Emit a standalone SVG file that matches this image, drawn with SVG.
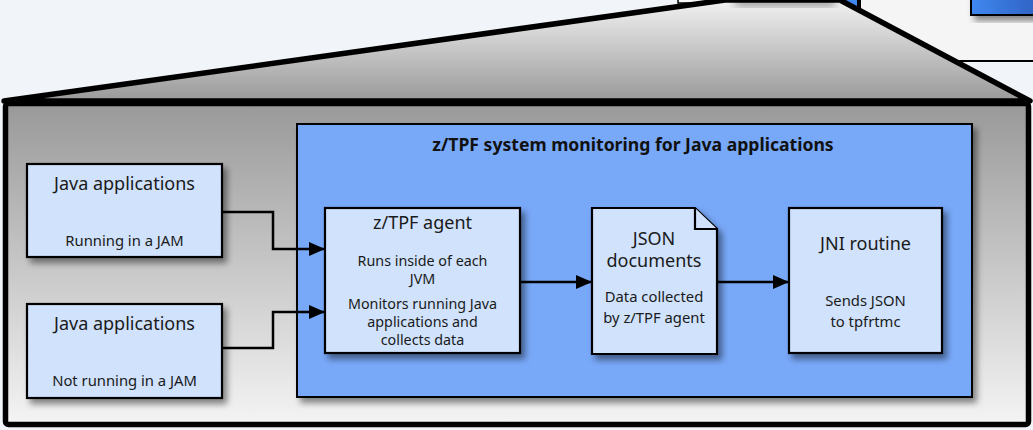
<svg xmlns="http://www.w3.org/2000/svg" width="1033" height="430" viewBox="0 0 1033 430">
<defs>
<linearGradient id="gFrame" x1="0" y1="0" x2="0" y2="1"><stop offset="0" stop-color="#999999"/><stop offset="1" stop-color="#f4f4f4"/></linearGradient>
<linearGradient id="gTrap" x1="0" y1="0" x2="0" y2="1"><stop offset="0" stop-color="#f2f2f2"/><stop offset="1" stop-color="#999999"/></linearGradient>
<linearGradient id="gBlueTop" x1="0" y1="0" x2="1" y2="0"><stop offset="0" stop-color="#3f88f0"/><stop offset="1" stop-color="#2f60c0"/></linearGradient>
<filter id="sh" x="-10%" y="-10%" width="130%" height="140%"><feDropShadow dx="4" dy="5" stdDeviation="3" flood-color="#000" flood-opacity="0.45"/></filter>
<filter id="blur"><feGaussianBlur stdDeviation="4"/></filter>
<marker id="arr" markerWidth="16" markerHeight="14" refX="16" refY="7" orient="auto" markerUnits="userSpaceOnUse"><path d="M0,0 L16,7 L0,14 Z" fill="#000"/></marker>
<style>
.node{fill:#d0e2fc;stroke:#000;stroke-width:2.2}
.t{font-family:"Noto Sans","Liberation Sans",sans-serif;fill:#1a1a1a;text-anchor:middle}
.big{font-size:18px}
.sm{font-size:14.8px}
.xs{font-size:14.3px}
.title{font-family:"Noto Sans","Liberation Sans",sans-serif;font-weight:bold;font-size:17.6px;fill:#111;text-anchor:middle}
.conn{fill:none;stroke:#000;stroke-width:2.5}
</style>
</defs>
<rect x="0" y="0" width="1033" height="430" fill="#f1f4f8"/>
<g id="background-context">
<rect x="860" y="-10" width="190" height="71" fill="#f5f5f5" stroke="#000" stroke-width="2"/>
<rect x="678" y="-20" width="180" height="23" fill="#f7f7f7" stroke="#000" stroke-width="1.5"/>
<rect x="730" y="-20" width="128" height="28" fill="#3f88f0" stroke="#000" stroke-width="2"/>
<rect x="971" y="-10" width="70" height="25" fill="url(#gBlueTop)" stroke="#000" stroke-width="2" filter="url(#sh)"/>
<polygon points="4,101 725,0 840,0 1030,101" fill="url(#gTrap)" stroke="#000" stroke-width="5.5" stroke-linejoin="round"/>
<rect x="735" y="-6" width="100" height="12" fill="#000" opacity="0.35" filter="url(#blur)"/>
</g>
<rect id="frame" x="5.5" y="103.5" width="1023" height="321" rx="3" fill="url(#gFrame)" stroke="#000" stroke-width="5.5"/>
<g id="container">
<rect x="297" y="124" width="675" height="273" fill="#78a8f8" stroke="#000" stroke-width="2" filter="url(#sh)"/>
<text class="title" x="633" y="151">z/TPF system monitoring for Java applications</text>
</g>
<g id="java-jam">
<rect class="node" x="27" y="164" width="195" height="93" filter="url(#sh)"/>
<text class="t big" x="124.5" y="190">Java applications</text>
<text class="t sm" x="124.5" y="246">Running in a JAM</text>
</g>
<g id="java-nojam">
<rect class="node" x="27" y="304" width="195" height="94" filter="url(#sh)"/>
<text class="t big" x="124.5" y="330">Java applications</text>
<text class="t sm" x="124.5" y="386">Not running in a JAM</text>
</g>
<g id="agent">
<rect class="node" x="325" y="208" width="195" height="145" filter="url(#sh)"/>
<text class="t big" x="422.5" y="229">z/TPF agent</text>
<text class="t xs" x="422.5" y="266">Runs inside of each</text>
<text class="t xs" x="422.5" y="284">JVM</text>
<text class="t xs" x="422.5" y="309">Monitors running Java</text>
<text class="t xs" x="422.5" y="327">applications and</text>
<text class="t xs" x="422.5" y="345">collects data</text>
</g>
<g id="json">
<path class="node" d="M592,208 L695,208 L717,229 L717,354 L592,354 Z" filter="url(#sh)"/>
<path d="M695,208 L695,229 L717,229" fill="#d0e2fc" stroke="#000" stroke-width="2.2" stroke-linejoin="miter"/>
<text class="t big" x="654" y="245">JSON</text>
<text class="t big" x="654" y="267">documents</text>
<text class="t sm" x="654" y="302">Data collected</text>
<text class="t sm" x="654" y="323">by z/TPF agent</text>
</g>
<g id="jni">
<rect class="node" x="789" y="208" width="153" height="145" filter="url(#sh)"/>
<text class="t big" x="865.5" y="250">JNI routine</text>
<text class="t sm" x="865.5" y="306">Sends JSON</text>
<text class="t sm" x="865.5" y="327">to tpfrtmc</text>
</g>
<g id="connectors">
<path class="conn" d="M222,212 H273 V249 H325" marker-end="url(#arr)"/>
<path class="conn" d="M222,348 H273 V312 H325" marker-end="url(#arr)"/>
<path class="conn" d="M520,282 H592" marker-end="url(#arr)"/>
<path class="conn" d="M717,282 H789" marker-end="url(#arr)"/>
</g>
</svg>
